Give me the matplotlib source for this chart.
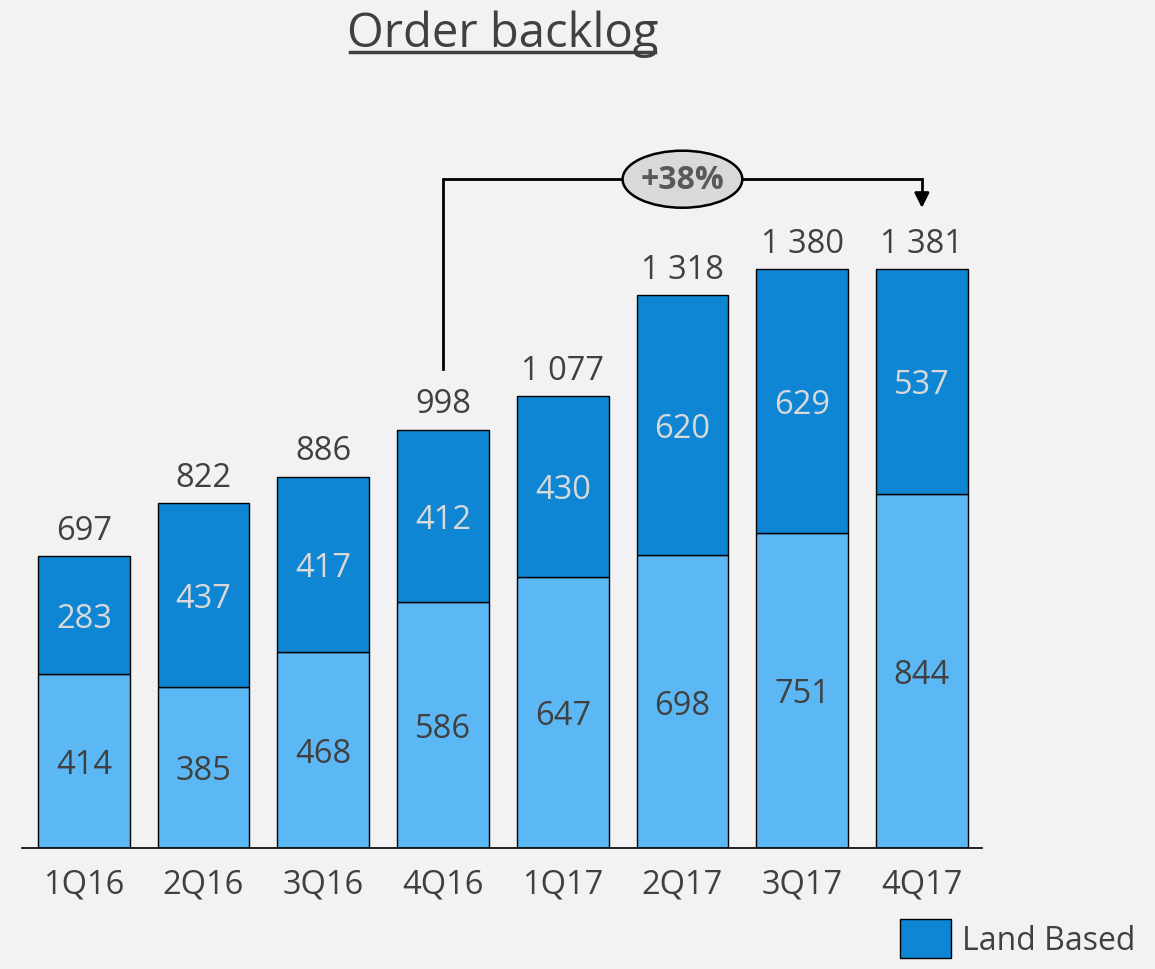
import numpy as np
import matplotlib.pyplot as plt
import matplotlib.patches as mpatches
from matplotlib.lines import Line2D

plt.rcParams['font.family'] = ['Open Sans', 'DejaVu Sans']

quarters = ["1Q16", "2Q16", "3Q16", "4Q16", "1Q17", "2Q17", "3Q17", "4Q17"]
other = [414, 385, 468, 586, 647, 698, 751, 844]
land_based = [283, 437, 417, 412, 430, 620, 629, 537]
totals = [697, 822, 886, 998, 1077, 1318, 1380, 1381]
growth_label = "+38%"

BG = "#F2F2F2"
LIGHT = "#5BB8F5"
DARK = "#0E86D4"
TXT = "#404040"

fig = plt.figure(figsize=(11.55, 9.7), dpi=100, facecolor=BG)
ax = fig.add_axes([0.019, 0.1247, 0.831, 0.731])
ax.set_facecolor(BG)

x = np.arange(len(quarters))
w = 0.767
ax.bar(x, other, w, color=LIGHT, edgecolor="black", linewidth=1)
ax.bar(x, land_based, w, bottom=other, color=DARK, edgecolor="black", linewidth=1)

for i in range(len(x)):
    ax.text(x[i], other[i] / 2 - 8, str(other[i]), ha="center", va="center",
            fontsize=23.5, color=TXT)
    ax.text(x[i], other[i] + land_based[i] / 2 - 8, str(land_based[i]),
            ha="center", va="center", fontsize=23.5, color="#D9D9D9")
    lab = f"{totals[i]:,}".replace(",", " ")
    ax.text(x[i], totals[i] + 22, lab, ha="center", va="bottom",
            fontsize=23.5, color=TXT)

ax.set_xlim(-0.517, 7.5)
ax.set_ylim(0, 1691)
for s in ["top", "right", "left"]:
    ax.spines[s].set_visible(False)
ax.spines["bottom"].set_color("black")
ax.spines["bottom"].set_linewidth(1.2)
ax.set_yticks([])
ax.set_xticks(x)
ax.set_xticklabels(quarters, fontsize=23.5, color=TXT)
ax.tick_params(axis="x", length=0, pad=14)

# growth annotation 4Q16 -> 4Q17
y_line = 1595
ax.plot([3, 3, 7, 7], [1142, y_line, y_line, 1555], color="black", lw=2,
        clip_on=False, solid_joinstyle="miter")
ax.annotate("", xy=(7, 1520), xytext=(7, 1560),
            arrowprops=dict(arrowstyle="-|>", color="black", lw=2,
                            mutation_scale=22), annotation_clip=False)
ell = mpatches.Ellipse((5, y_line), 1.0, 136, facecolor="#D9D9D9",
                       edgecolor="black", lw=1.8, clip_on=False, zorder=3)
ax.add_patch(ell)
ax.text(5, y_line, growth_label, ha="center", va="center", fontsize=23,
        fontweight="bold", color="#595959", zorder=4)

# title with underline
fig.text(0.4355, 0.965, "Order backlog", ha="center", va="center",
         fontsize=34, color=TXT)
fig.add_artist(Line2D([350 / 1155, 655 / 1155], [1 - 53 / 970, 1 - 53 / 970],
                      color=TXT, lw=2.5))

# legend
handle = mpatches.Patch(facecolor=DARK, edgecolor="black", label="Land Based")
fig.legend(handles=[handle], loc="lower right", bbox_to_anchor=(1.0, -0.008),
           frameon=False, fontsize=23, handlelength=1.6, handleheight=1.5,
           handletextpad=0.35, labelcolor=TXT, borderaxespad=0.2)

plt.savefig("out.png", dpi=100, facecolor=BG)
